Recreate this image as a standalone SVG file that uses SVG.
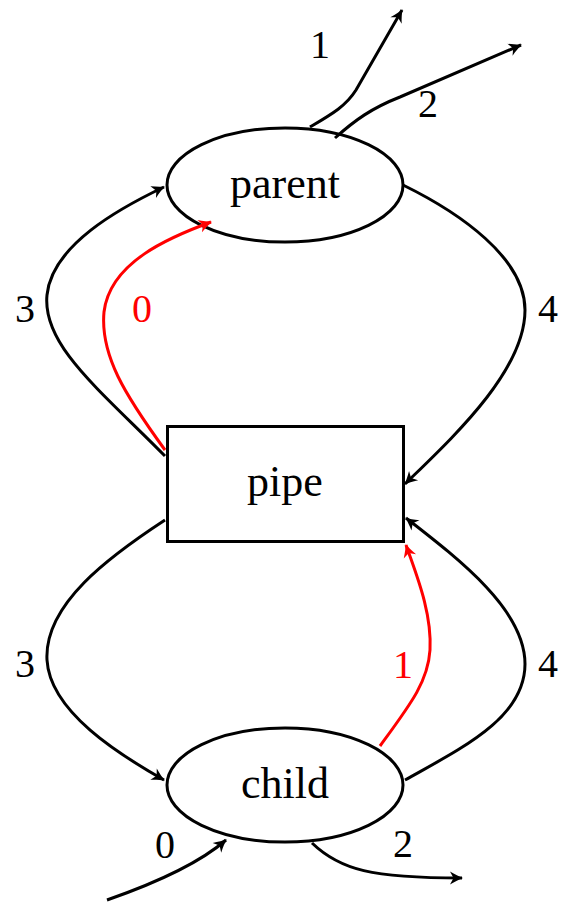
<svg xmlns="http://www.w3.org/2000/svg" width="561" height="904" viewBox="0 0 561 904">
<style>
text{font-family:"Liberation Serif","DejaVu Serif",serif;font-size:40px;fill:#000;text-anchor:middle}
.nl{font-size:44px}
.red{fill:#f00}
.node{fill:#fff;stroke:#000;stroke-width:3}
.c{fill:none;stroke:#000;stroke-width:3}
.cr{fill:none;stroke:#f00;stroke-width:3}
</style>
<defs>
<marker id="ah" markerUnits="userSpaceOnUse" viewBox="-13 -7 15 14" refX="0" refY="0" markerWidth="15" markerHeight="14" orient="auto" overflow="visible">
<path d="M1,0 C-3,-1.5 -7,-3.5 -12,-6.5 L-8.5,0 L-12,6.5 C-7,3.5 -3,1.5 1,0 Z" fill="#000"/>
</marker>
<marker id="ahr" markerUnits="userSpaceOnUse" viewBox="-13 -7 15 14" refX="0" refY="0" markerWidth="15" markerHeight="14" orient="auto" overflow="visible">
<path d="M1,0 C-3,-1.5 -7,-3.5 -12,-6.5 L-8.5,0 L-12,6.5 C-7,3.5 -3,1.5 1,0 Z" fill="#f00"/>
</marker>
</defs>
<g id="parent"><ellipse class="node" cx="285" cy="185" rx="118" ry="57"/><text class="nl" x="285" y="198">parent</text></g>
<g id="pipe"><rect class="node" x="167.5" y="426.5" width="236" height="115"/><text class="nl" x="285" y="496">pipe</text></g>
<g id="child"><ellipse class="node" cx="285" cy="785" rx="118" ry="57"/><text class="nl" x="285" y="798">child</text></g>
<g id="connectors">
<path class="c" d="M310,127 C332,114 346,106 356,90 L402,10" marker-end="url(#ah)"/>
<path class="c" d="M335,138 C355,120 372,108 400,97 L521,45" marker-end="url(#ah)"/>
<path class="c" d="M165,456 C100,390 42,345 47,295 C52,245 120,208 164,187" marker-end="url(#ah)"/>
<path class="cr" d="M165,450 C125,395 100,355 104,312 C110,262 170,237 211,222" marker-end="url(#ahr)"/>
<path class="c" d="M403,185 C460,213 525,258 525,310 C525,372 450,440 405,484" marker-end="url(#ah)"/>
<path class="c" d="M165,520 C110,556 44,604 47,660 C50,712 120,755 164,780" marker-end="url(#ah)"/>
<path class="cr" d="M380,746 C410,705 428,682 430,650 C432,612 416,574 406,545" marker-end="url(#ahr)"/>
<path class="c" d="M405,780 C462,748 525,718 525,664 C525,610 460,560 406,518" marker-end="url(#ah)"/>
<path class="c" d="M107,900 C150,885 196,866 226,840" marker-end="url(#ah)"/>
<path class="c" d="M312,843 C340,870 372,878 462,878" marker-end="url(#ah)"/>
</g>
<g id="labels">
<text x="320" y="58">1</text>
<text x="428" y="117">2</text>
<text x="25" y="322">3</text>
<text class="red" x="142" y="322">0</text>
<text x="548" y="322">4</text>
<text x="25" y="677">3</text>
<text class="red" x="403" y="678">1</text>
<text x="548" y="677">4</text>
<text x="165" y="858">0</text>
<text x="403" y="857">2</text>
</g>
</svg>
